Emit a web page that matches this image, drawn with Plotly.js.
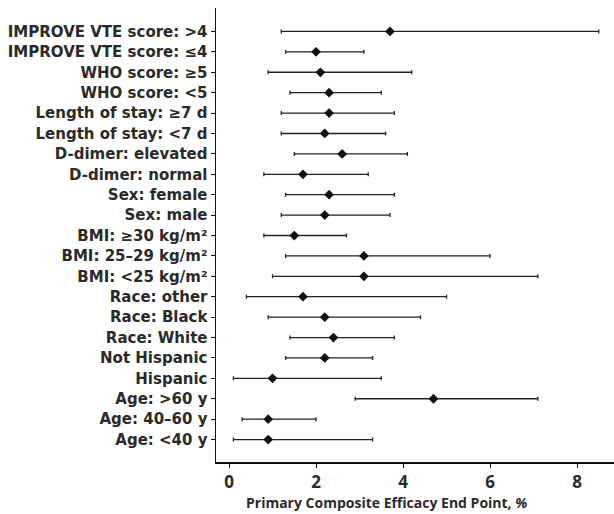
<!DOCTYPE html>
<html>
<head>
<meta charset="utf-8">
<script src="https://cdn.plot.ly/plotly-3.0.1.min.js"></script>
<style>html,body{margin:0;padding:0;background:#fff;}#chart{width:614px;height:514px;}</style>
</head>
<body>
<div id="chart"></div>
<script>
// Subgroups, top to bottom as shown
const categories = [
  "IMPROVE VTE score: >4",
  "IMPROVE VTE score: ≤4",
  "WHO score: ≥5",
  "WHO score: <5",
  "Length of stay: ≥7 d",
  "Length of stay: <7 d",
  "D-dimer: elevated",
  "D-dimer: normal",
  "Sex: female",
  "Sex: male",
  "BMI: ≥30 kg/m²",
  "BMI: 25–29 kg/m²",
  "BMI: <25 kg/m²",
  "Race: other",
  "Race: Black",
  "Race: White",
  "Not Hispanic",
  "Hispanic",
  "Age: >60 y",
  "Age: 40–60 y",
  "Age: <40 y"
];
const estimate = [3.7, 2.0, 2.1, 2.3, 2.3, 2.2, 2.6, 1.7, 2.3, 2.2, 1.5, 3.1, 3.1, 1.7, 2.2, 2.4, 2.2, 1.0, 4.7, 0.9, 0.9];
const lower    = [1.2, 1.3, 0.9, 1.4, 1.2, 1.2, 1.5, 0.8, 1.3, 1.2, 0.8, 1.3, 1.0, 0.4, 0.9, 1.4, 1.3, 0.1, 2.9, 0.3, 0.1];
const upper    = [8.5, 3.1, 4.2, 3.5, 3.8, 3.6, 4.1, 3.2, 3.8, 3.7, 2.7, 6.0, 7.1, 5.0, 4.4, 3.8, 3.3, 3.5, 7.1, 2.0, 3.3];
const xTickVals = [0, 2, 4, 6, 8];
const xTitle = "Primary Composite Efficacy End Point, <i>%</i>";

const plus = upper.map((u, i) => u - estimate[i]);
const minus = lower.map((l, i) => estimate[i] - l);

const trace = {
  type: "scatter",
  mode: "markers",
  x: estimate,
  y: categories,
  marker: { symbol: "diamond", size: 7.5, color: "#111" },
  error_x: {
    type: "data",
    symmetric: false,
    array: plus,
    arrayminus: minus,
    color: "#222",
    thickness: 1.3,
    width: 2
  },
  hoverinfo: "x+y"
};

const labelFont = "'DejaVu Sans', sans-serif";
const font = "'Open Sans', 'DejaVu Sans', sans-serif";
const layout = {
  width: 614,
  height: 514,
  margin: { l: 216, r: 0, t: 8, b: 52 },
  paper_bgcolor: "#fff",
  plot_bgcolor: "#fff",
  showlegend: false,
  font: { family: font, color: "#2a2a2a", size: 14 },
  xaxis: {
    range: [-0.3, 8.85],
    tickvals: xTickVals,
    ticktext: xTickVals.map(String),
    showgrid: false,
    zeroline: false,
    showline: true,
    linecolor: "#111",
    linewidth: 1.5,
    ticks: "outside",
    ticklen: 4,
    tickwidth: 1,
    tickcolor: "#111",
    tickfont: { family: font, size: 17, color: "#2a2a2a", weight: "bold" }
  },
  yaxis: {
    type: "category",
    categoryorder: "array",
    categoryarray: categories.slice().reverse(),
    range: [-1.1, 21.15],
    showgrid: false,
    zeroline: false,
    showline: true,
    linecolor: "#111",
    linewidth: 1.5,
    ticks: "outside",
    ticklen: 4,
    tickwidth: 1,
    tickcolor: "#111",
    tickfont: { family: labelFont, size: 15, color: "#2a2a2a", weight: "bold" },
    automargin: false
  },
  annotations: [{
    text: xTitle,
    xref: "paper", yref: "paper",
    x: 0.4296, y: -0.09,
    xanchor: "center", yanchor: "middle",
    showarrow: false,
    font: { family: font, size: 14, color: "#2a2a2a", weight: "bold" }
  }]
};

Plotly.newPlot("chart", [trace], layout, { displayModeBar: false, staticPlot: true });
</script>
</body>
</html>
